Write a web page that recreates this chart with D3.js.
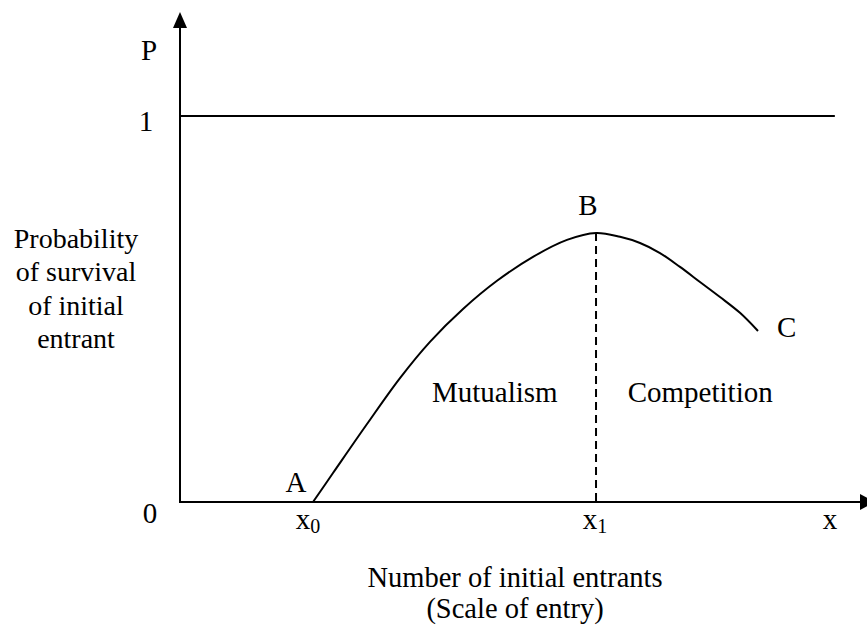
<!DOCTYPE html>
<html>
<head>
<meta charset="utf-8">
<script src="https://cdn.jsdelivr.net/npm/d3@7"></script>
<style>
  body { margin: 0; background: #fff; }
  svg text { font-family: "Liberation Serif", "Times New Roman", serif; fill: #000; }
</style>
</head>
<body>
<svg id="chart" width="867" height="628"></svg>
<script>
// curve: number of entrants (0-100) vs probability (0-1)
var curveX = [19.56, 22.50, 27.50, 32.35, 36.76, 41.62, 46.62, 51.91, 56.91, 61.18,
              64.71, 67.65, 70.59, 73.53, 76.47, 79.41, 82.35, 85.0];
var curveP = [0, 0.075, 0.202, 0.321, 0.415, 0.500, 0.573, 0.635, 0.679, 0.697,
              0.687, 0.671, 0.645, 0.609, 0.570, 0.531, 0.490, 0.443];

// horizontal reference line P = 1
var certainLine = [[0, 1], [96.3, 1]];

// tick labels on the x axis (value, main text, subscript)
var xTickValues = [19.56, 61.18, 95.6];
var xTickLabels = ["x", "x", "x"];
var xTickSubs = ["0", "1", ""];

// tick labels on the y axis
var yTickValues = [0, 1];
var yTickLabels = ["0", "1"];

// point labels A, B, C at curve start, peak and end
var pointNames = ["A", "B", "C"];
var pointIndex = [0, 9, 17];

// region labels
var regionNames = ["Mutualism", "Competition"];
var regionX = [46.3, 76.5];
var regionP = [0.259, 0.259];

var yLabelLines = ["Probability", "of survival", "of initial", "entrant"];
var xLabelLines = ["Number of initial entrants", "(Scale of entry)"];

var svg = d3.select("#chart");

var xScale = d3.scaleLinear().domain([0, 100]).range([180, 860]),
    yScale = d3.scaleLinear().domain([0, 1]).range([502, 116]);

var fs = 29;

// axes drawn as plain lines with arrow heads
svg.append("line")
    .attr("x1", xScale(0)).attr("y1", yScale(0))
    .attr("x2", xScale(0)).attr("y2", 26)
    .attr("stroke", "#000").attr("stroke-width", 2);
svg.append("path")
    .attr("d", "M" + xScale(0) + ",12 L" + (xScale(0) - 7) + ",28 L" + (xScale(0) + 7) + ",28 Z")
    .attr("fill", "#000");

svg.append("line")
    .attr("x1", xScale(0) - 1).attr("y1", yScale(0))
    .attr("x2", 861).attr("y2", yScale(0))
    .attr("stroke", "#000").attr("stroke-width", 2);
svg.append("path")
    .attr("d", "M875," + yScale(0) + " L860," + (yScale(0) - 8) + " L860," + (yScale(0) + 8) + " Z")
    .attr("fill", "#000");

// P = 1 line
svg.append("path")
    .attr("d", d3.line().x(function(d) { return xScale(d[0]); }).y(function(d) { return yScale(d[1]); })(certainLine))
    .attr("fill", "none").attr("stroke", "#000").attr("stroke-width", 2);

// the survival curve
var data = curveX.map(function(x, i) { return { x: x, p: curveP[i] }; });
var line = d3.line()
    .curve(d3.curveCatmullRom.alpha(0.5))
    .x(function(d) { return xScale(d.x); })
    .y(function(d) { return yScale(d.p); });

svg.append("path")
    .attr("d", line(data))
    .attr("fill", "none").attr("stroke", "#000").attr("stroke-width", 2);

// dashed drop line from the peak
var peak = data[pointIndex[1]];
svg.append("line")
    .attr("x1", xScale(peak.x)).attr("y1", yScale(peak.p))
    .attr("x2", xScale(peak.x)).attr("y2", yScale(0))
    .attr("stroke", "#000").attr("stroke-width", 2)
    .attr("stroke-dasharray", "8,5");

// point labels
var pointOffsets = [[-17, -10, "middle"], [-8, -18, "middle"], [19, 6, "start"]];
pointNames.forEach(function(name, i) {
    var d = data[pointIndex[i]];
    svg.append("text")
        .attr("x", xScale(d.x) + pointOffsets[i][0])
        .attr("y", yScale(d.p) + pointOffsets[i][1])
        .attr("text-anchor", pointOffsets[i][2])
        .style("font-size", fs + "px")
        .text(name);
});

// region labels
regionNames.forEach(function(name, i) {
    svg.append("text")
        .attr("x", xScale(regionX[i]))
        .attr("y", yScale(regionP[i]))
        .attr("text-anchor", "middle")
        .style("font-size", fs + "px")
        .text(name);
});

// x tick labels with subscripts
var xTickShift = [-5, -1, 0];
xTickValues.forEach(function(v, i) {
    var t = svg.append("text")
        .attr("x", xScale(v) + xTickShift[i])
        .attr("y", 529)
        .attr("text-anchor", "middle")
        .style("font-size", fs + "px");
    t.append("tspan").text(xTickLabels[i]);
    if (xTickSubs[i]) {
        t.append("tspan")
            .attr("dy", 4)
            .style("font-size", "20px")
            .text(xTickSubs[i]);
    }
});

// y tick labels
var yTickX = [150, 146];
yTickValues.forEach(function(v, i) {
    svg.append("text")
        .attr("x", yTickX[i])
        .attr("y", yScale(v) + (v === 0 ? 21 : 15))
        .attr("text-anchor", "middle")
        .style("font-size", fs + "px")
        .text(yTickLabels[i]);
});

// axis names
svg.append("text")
    .attr("x", 149).attr("y", 60)
    .attr("text-anchor", "middle")
    .style("font-size", fs + "px")
    .text("P");

yLabelLines.forEach(function(s, i) {
    svg.append("text")
        .attr("x", 76).attr("y", 248 + i * 33.3)
        .attr("text-anchor", "middle")
        .style("font-size", "28px")
        .text(s);
});

xLabelLines.forEach(function(s, i) {
    svg.append("text")
        .attr("x", 515).attr("y", 587 + i * 31)
        .attr("text-anchor", "middle")
        .style("font-size", "28.5px")
        .text(s);
});
</script>
</body>
</html>
